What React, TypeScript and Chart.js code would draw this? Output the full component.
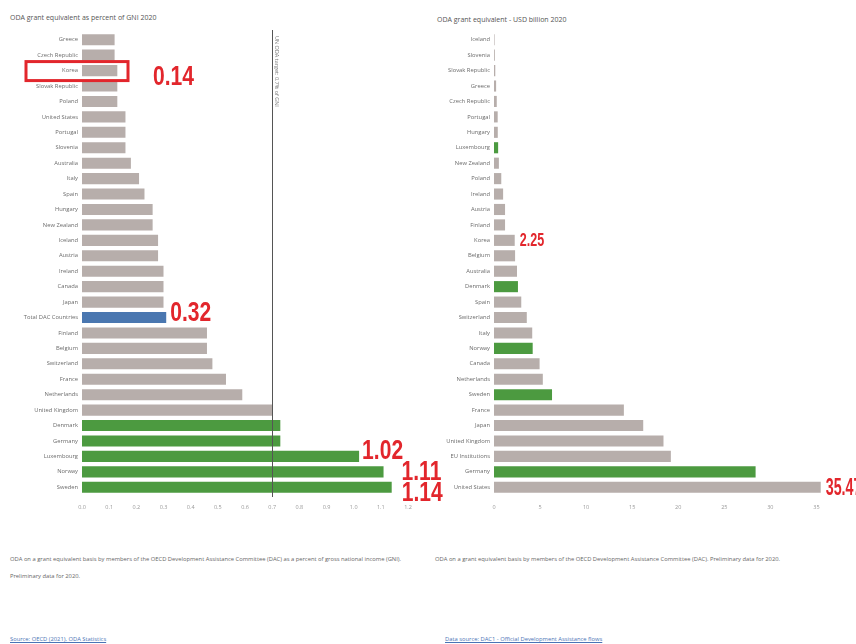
import React, { useEffect, useRef } from 'react';
import { Chart, registerables } from 'chart.js';

Chart.register(...registerables);

// ---------- DATA ----------
const gniCountries = [
  'Greece', 'Czech Republic', 'Korea', 'Slovak Republic', 'Poland', 'United States',
  'Portugal', 'Slovenia', 'Australia', 'Italy', 'Spain', 'Hungary', 'New Zealand',
  'Iceland', 'Austria', 'Ireland', 'Canada', 'Japan', 'Total DAC Countries', 'Finland',
  'Belgium', 'Switzerland', 'France', 'Netherlands', 'United Kingdom', 'Denmark',
  'Germany', 'Luxembourg', 'Norway', 'Sweden',
];
const gniValues = [
  0.12, 0.12, 0.13, 0.13, 0.13, 0.16,
  0.16, 0.16, 0.18, 0.21, 0.23, 0.26, 0.26,
  0.28, 0.28, 0.30, 0.30, 0.30, 0.31, 0.46,
  0.46, 0.48, 0.53, 0.59, 0.70, 0.73,
  0.73, 1.02, 1.11, 1.14,
];
const gniTicks = [0, 0.1, 0.2, 0.3, 0.4, 0.5, 0.6, 0.7, 0.8, 0.9, 1.0, 1.1, 1.2];
const usdCountries = [
  'Iceland', 'Slovenia', 'Slovak Republic', 'Greece', 'Czech Republic', 'Portugal',
  'Hungary', 'Luxembourg', 'New Zealand', 'Poland', 'Ireland', 'Austria', 'Finland',
  'Korea', 'Belgium', 'Australia', 'Denmark', 'Spain', 'Switzerland', 'Italy', 'Norway',
  'Canada', 'Netherlands', 'Sweden', 'France', 'Japan', 'United Kingdom',
  'EU Institutions', 'Germany', 'United States',
];
const usdValues = [
  0.06, 0.09, 0.14, 0.23, 0.30, 0.40,
  0.41, 0.45, 0.53, 0.79, 0.99, 1.2, 1.2,
  2.25, 2.29, 2.5, 2.6, 2.96, 3.56, 4.15, 4.2,
  4.95, 5.3, 6.3, 14.1, 16.2, 18.4,
  19.2, 28.4, 35.47,
];
const usdTicks = [0, 5, 10, 15, 20, 25, 30, 35];
const targetMet = ['Denmark', 'Germany', 'Luxembourg', 'Norway', 'Sweden'];
const totalLabel = 'Total DAC Countries';
const gniTarget = 0.7;
const gniCallouts = [
  { country: 'Korea', text: '0.14' },
  { country: 'Total DAC Countries', text: '0.32' },
  { country: 'Luxembourg', text: '1.02' },
  { country: 'Norway', text: '1.11' },
  { country: 'Sweden', text: '1.14' },
];
const usdCallouts = [
  { country: 'Korea', text: '2.25' },
  { country: 'United States', text: '35.47' },
];
const gniTitle = 'ODA grant equivalent as percent of GNI 2020';
const usdTitle = 'ODA grant equivalent - USD billion 2020';
const gniNote = 'ODA on a grant equivalent basis by members of the OECD Development Assistance Committee (DAC) as a percent of gross national income (GNI). Preliminary data for 2020.';
const usdNote = 'ODA on a grant equivalent basis by members of the OECD Development Assistance Committee (DAC). Preliminary data for 2020.';
const gniLink = 'Source: OECD (2021), ODA Statistics';
const usdLink = 'Data source: DAC1 - Official Development Assistance flows';
const targetText = 'UN ODA target: 0.7% of GNI';

// ---------- STYLE ----------
const GREY = '#b7aeab';
const GREEN = '#4c9a40';
const BLUE = '#4a77b0';
const RED = '#e2262c';
const TXT = '#6b6b6b';
const FONT = '"Open Sans", "DejaVu Sans", sans-serif';
const CALLOUT_FONT = '"Liberation Sans", Arial, sans-serif';

const colorFor = (c: string) =>
  c === totalLabel ? BLUE : targetMet.includes(c) ? GREEN : GREY;

// per-callout placement (style), in order of callouts
const gniCalloutStyle = [
  { mode: 'box', dx: 71, dy: 7, size: 27, sx: 0.78 },
  { mode: 'bar', dx: 4, dy: -4, size: 27, sx: 0.78 },
  { mode: 'bar', dx: 3, dy: -5, size: 27, sx: 0.78 },
  { mode: 'bar', dx: 18, dy: 1, size: 27, sx: 0.78 },
  { mode: 'bar', dx: 10, dy: 6, size: 27, sx: 0.78 },
];
const usdCalloutStyle = [
  { mode: 'bar', dx: 5, dy: 0, size: 19, sx: 0.66 },
  { mode: 'bar', dx: 5, dy: 1, size: 23, sx: 0.62 },
];

function makeCalloutPlugin(
  id: string,
  countries: string[],
  values: number[],
  callouts: { country: string; text: string }[],
  styles: { mode: string; dx: number; dy: number; size: number; sx: number }[],
  withTarget: boolean
) {
  return {
    id,
    afterDraw(chart: any) {
      const ctx = chart.ctx;
      const xs = chart.scales.x;
      const ys = chart.scales.y;
      const area = chart.chartArea;
      ctx.save();
      if (withTarget) {
        const tx = Math.round(xs.getPixelForValue(gniTarget)) + 0.5;
        ctx.strokeStyle = '#555';
        ctx.lineWidth = 1;
        ctx.beginPath();
        ctx.moveTo(tx, area.top - 2);
        ctx.lineTo(tx, area.bottom + 2);
        ctx.stroke();
        ctx.save();
        ctx.translate(tx + 4, area.top + 4);
        ctx.rotate(Math.PI / 2);
        ctx.fillStyle = '#777';
        ctx.font = `5.5px ${FONT}`;
        ctx.textBaseline = 'middle';
        ctx.textAlign = 'left';
        ctx.fillText(targetText, 0, 0);
        ctx.restore();
      }
      callouts.forEach((c, i) => {
        const st = styles[i];
        const idx = countries.indexOf(c.country);
        const y = ys.getPixelForValue(idx);
        let x: number;
        if (st.mode === 'box') {
          ctx.strokeStyle = RED;
          ctx.lineWidth = 3;
          ctx.strokeRect(area.left - 56, y - 9, 102, 19);
          x = area.left + st.dx;
        } else {
          x = xs.getPixelForValue(values[idx]) + st.dx;
        }
        ctx.save();
        ctx.translate(x, y + st.dy);
        ctx.scale(st.sx, 1);
        ctx.fillStyle = RED;
        ctx.font = `bold ${st.size}px ${CALLOUT_FONT}`;
        ctx.textAlign = 'left';
        ctx.textBaseline = 'middle';
        ctx.fillText(c.text, 0, 0);
        ctx.restore();
      });
      ctx.restore();
    },
  };
}

function baseOptions(max: number, ticks: number[], yWidth: number, padRight: number, fmt: (v: number) => string) {
  return {
    responsive: false,
    animation: false as const,
    indexAxis: 'y' as const,
    devicePixelRatio: 1,
    layout: { padding: { left: 0, top: 32, right: padRight, bottom: 0 } },
    plugins: { legend: { display: false }, tooltip: { enabled: false }, title: { display: false } },
    scales: {
      x: {
        min: 0,
        max,
        grid: { display: false, drawTicks: false, tickLength: 0 },
        border: { display: false },
        afterBuildTicks: (s: any) => { s.ticks = ticks.map((v) => ({ value: v })); },
        ticks: {
          padding: 9,
          color: '#999',
          font: { size: 5.5, family: FONT },
          callback: (v: any) => fmt(Number(v)),
        },
        afterFit: (s: any) => { s.height = 20; },
      },
      y: {
        grid: { display: false, drawTicks: false, tickLength: 0 },
        border: { display: false },
        ticks: { padding: 4, color: TXT, font: { size: 5.8, family: FONT }, autoSkip: false },
        afterFit: (s: any) => { s.width = yWidth; },
      },
    },
  };
}

export default function App() {
  const leftRef = useRef<HTMLCanvasElement>(null);
  const rightRef = useRef<HTMLCanvasElement>(null);

  useEffect(() => {
    const left = new Chart(leftRef.current as HTMLCanvasElement, {
      type: 'bar',
      data: {
        labels: gniCountries,
        datasets: [{
          data: gniValues,
          backgroundColor: gniCountries.map(colorFor),
          barPercentage: 0.72,
          categoryPercentage: 1,
        }],
      },
      options: baseOptions(1.2, gniTicks, 82, 37, (v) => v.toFixed(1)) as any,
      plugins: [makeCalloutPlugin('gniCallouts', gniCountries, gniValues, gniCallouts, gniCalloutStyle, true)],
    });
    const right = new Chart(rightRef.current as HTMLCanvasElement, {
      type: 'bar',
      data: {
        labels: usdCountries,
        datasets: [{
          data: usdValues,
          backgroundColor: usdCountries.map(colorFor),
          barPercentage: 0.72,
          categoryPercentage: 1,
        }],
      },
      options: baseOptions(35.5, usdTicks, 64, 35, (v) => String(v)) as any,
      plugins: [makeCalloutPlugin('usdCallouts', usdCountries, usdValues, usdCallouts, usdCalloutStyle, false)],
    });
    return () => {
      left.destroy();
      right.destroy();
    };
  }, []);

  const abs = (l: number, t: number, extra: any = {}) => ({ position: 'absolute' as const, left: l, top: t, ...extra });

  return (
    <div style={{ position: 'fixed', left: 0, top: 0, width: 856, height: 644, background: '#fff', overflow: 'hidden', fontFamily: FONT }}>
      <div style={abs(10, 13, { fontSize: 7, color: '#555', whiteSpace: 'nowrap' })}>{gniTitle}</div>
      <div style={abs(437, 15, { fontSize: 7, color: '#555', whiteSpace: 'nowrap' })}>{usdTitle}</div>
      <canvas ref={leftRef} width={445} height={515} style={abs(0, 0, { width: 445, height: 515 })} />
      <canvas ref={rightRef} width={426} height={515} style={abs(430, 0, { width: 426, height: 515 })} />
      <div style={abs(10, 551, { width: 420, fontSize: 5.8, lineHeight: '17px', color: '#666' })}>{gniNote}</div>
      <div style={abs(435, 551, { width: 410, fontSize: 5.8, lineHeight: '17px', color: '#666', whiteSpace: 'nowrap' })}>{usdNote}</div>
      <div style={abs(10, 635, { fontSize: 5.8, color: '#4a73b5', textDecoration: 'underline', whiteSpace: 'nowrap' })}>{gniLink}</div>
      <div style={abs(445, 635, { fontSize: 5.8, color: '#4a73b5', textDecoration: 'underline', whiteSpace: 'nowrap' })}>{usdLink}</div>
    </div>
  );
}
